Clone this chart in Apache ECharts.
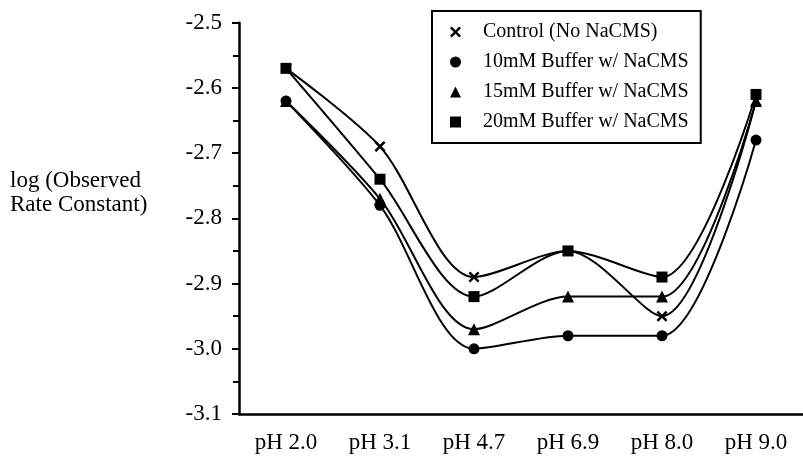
<!DOCTYPE html>
<html>
<head>
<meta charset="utf-8">
<script src="https://cdn.jsdelivr.net/npm/echarts@6/dist/echarts.min.js"></script>
<style>
  html, body { margin: 0; padding: 0; background: #fff; }
  #chart { width: 803px; height: 459px; }
</style>
</head>
<body>
<div id="chart"></div>
<script>
(function () {
    'use strict';

    var categories = ['pH 2.0', 'pH 3.1', 'pH 4.7', 'pH 6.9', 'pH 8.0', 'pH 9.0'];
    var seriesNames = ['Control (No NaCMS)', '10mM Buffer w/ NaCMS', '15mM Buffer w/ NaCMS', '20mM Buffer w/ NaCMS'];
    var control = [-2.57, -2.69, -2.89, -2.85, -2.95, -2.62];
    var buffer10 = [-2.62, -2.78, -3.00, -2.98, -2.98, -2.68];
    var buffer15 = [-2.62, -2.77, -2.97, -2.92, -2.92, -2.62];
    var buffer20 = [-2.57, -2.74, -2.92, -2.85, -2.89, -2.61];
    var yTicks = [-3.1, -3.0, -2.9, -2.8, -2.7, -2.6, -2.5];

    var serif = '"Liberation Serif", "DejaVu Serif", serif';
    var crossPath = 'path://M0,1.6L1.6,0L5,3.4L8.4,0L10,1.6L6.6,5L10,8.4L8.4,10L5,6.6L1.6,10L0,8.4L3.4,5Z';
    var symbols = [crossPath, 'circle', 'triangle', 'rect'];
    var sizes = [11, 11, 12, 11];
    var values = [control, buffer10, buffer15, buffer20];

    var chart = echarts.init(document.getElementById('chart'), null, { renderer: 'canvas' });

    var series = values.map(function (v, i) {
        return {
            name: seriesNames[i],
            type: 'line',
            data: v,
            smooth: 0.3,
            symbol: symbols[i],
            symbolSize: sizes[i],
            showAllSymbol: true,
            lineStyle: { color: '#000', width: 2 },
            itemStyle: { color: '#000' },
            emphasis: { disabled: true }
        };
    });

    var option = {
        backgroundColor: '#fff',
        animation: false,
        grid: { left: 239, right: -8, top: 22.7, bottom: 45, containLabel: false },
        legend: {
            orient: 'vertical',
            left: 432,
            top: 11,
            itemWidth: 11,
            itemHeight: 11,
            itemGap: 10,
            padding: [11, 12, 11, 18],
            borderColor: '#000',
            borderWidth: 2,
            borderRadius: 0,
            backgroundColor: '#fff',
            selectedMode: false,
            textStyle: { fontFamily: serif, fontSize: 20, color: '#000', padding: [0, 0, 0, 17] },
            data: seriesNames.map(function (n, i) {
                return { name: n, icon: symbols[i], itemStyle: { color: '#000' } };
            })
        },
        xAxis: {
            type: 'category',
            data: categories,
            boundaryGap: true,
            axisLine: { lineStyle: { color: '#000', width: 2.5 } },
            axisTick: { alignWithLabel: true, length: 8, lineStyle: { color: '#000', width: 2 } },
            axisLabel: { fontFamily: serif, fontSize: 23, color: '#000', margin: 17 },
            splitLine: { show: false }
        },
        yAxis: {
            type: 'value',
            min: yTicks[0],
            max: yTicks[yTicks.length - 1],
            interval: 0.1,
            axisLine: { show: true, lineStyle: { color: '#000', width: 2.5 } },
            axisTick: { show: true, length: 7, lineStyle: { color: '#000', width: 2 } },
            minorTick: { show: true, splitNumber: 2, length: 6, lineStyle: { color: '#000', width: 2 } },
            axisLabel: {
                fontFamily: serif, fontSize: 23, color: '#000', margin: 17,
                formatter: function (v) { return v.toFixed(1); }
            },
            splitLine: { show: false }
        },
        graphic: [{
            type: 'text',
            left: 10,
            top: 169,
            style: {
                text: 'log (Observed\nRate Constant)',
                font: '23px ' + serif,
                fill: '#000',
                lineHeight: 24
            }
        }],
        series: series
    };

    chart.setOption(option);
})();
</script>
</body>
</html>
